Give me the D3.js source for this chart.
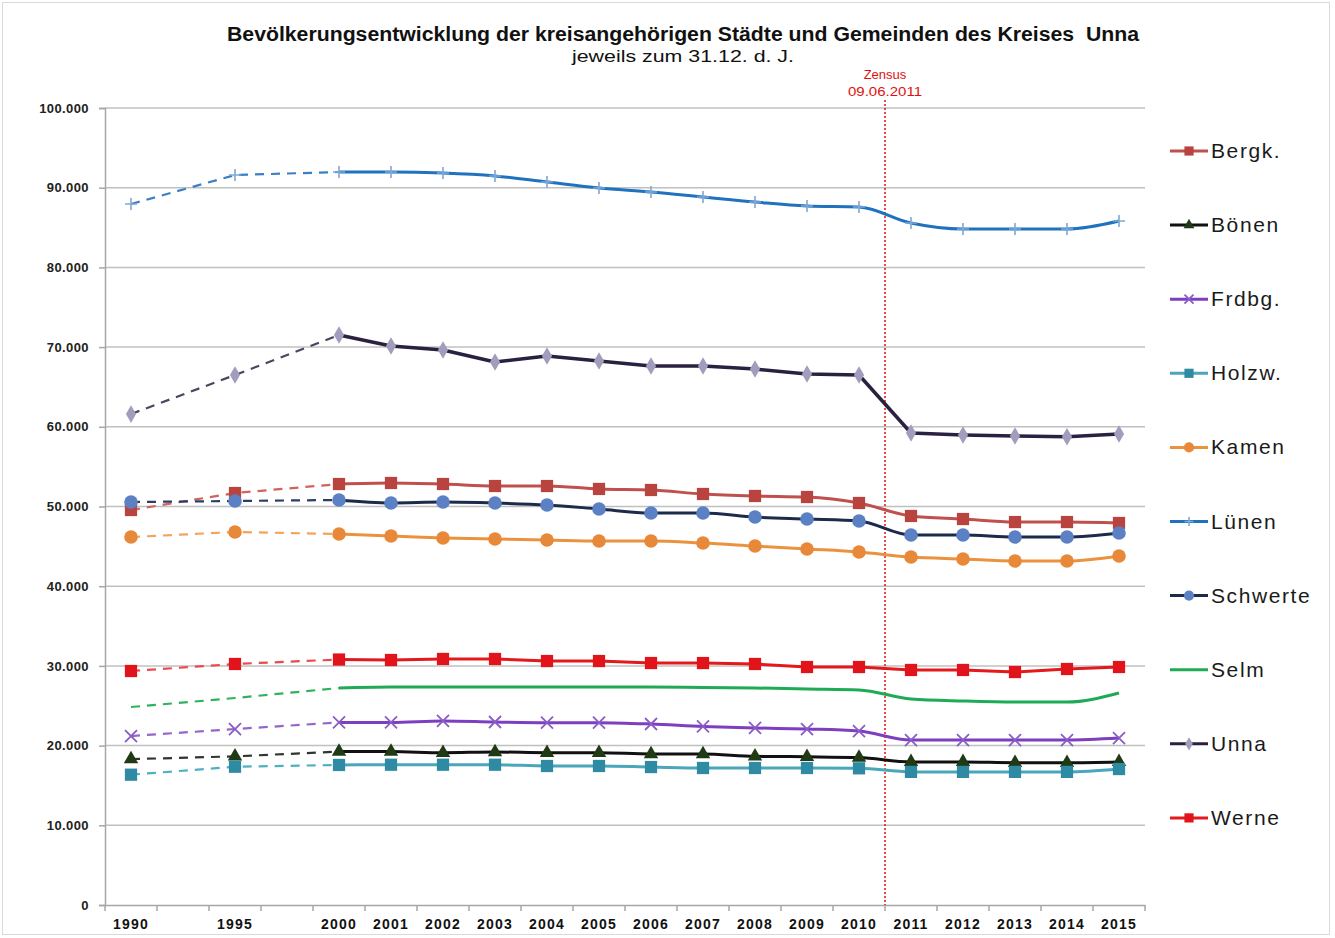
<!DOCTYPE html>
<html>
<head>
<meta charset="utf-8">
<script src="https://cdn.jsdelivr.net/npm/d3@7"></script>
<style>
  body { margin: 0; background: #fff; }
  svg { display: block; font-family: "Liberation Sans", Arial, sans-serif; }
</style>
</head>
<body>
<svg id="chart" width="1335" height="938"></svg>
<script>
// Kategorien der x-Achse (leere Felder = Lücken zwischen 1990/1995/2000)
const categories = ["1990", "", "1995", "", "2000", "2001", "2002", "2003", "2004", "2005",
  "2006", "2007", "2008", "2009", "2010", "2011", "2012", "2013", "2014", "2015"];
const years = [1990, 1995, 2000, 2001, 2002, 2003, 2004, 2005, 2006, 2007, 2008, 2009, 2010,
  2011, 2012, 2013, 2014, 2015];
const yTicks = [0, 10000, 20000, 30000, 40000, 50000, 60000, 70000, 80000, 90000, 100000];

// Einwohner jeweils zum 31.12.
const bergk    = [49560, 51690, 52820, 52950, 52820, 52570, 52570, 52200, 52070, 51570, 51320, 51190, 50440, 48810, 48430, 48050, 48050, 47930];
const boenen   = [18300, 18650, 19250, 19250, 19100, 19200, 19100, 19100, 18950, 18950, 18650, 18600, 18500, 17950, 17950, 17850, 17850, 17950];
const frdbg    = [21200, 22080, 22900, 22900, 23100, 22960, 22880, 22880, 22710, 22400, 22210, 22080, 21830, 20700, 20700, 20700, 20700, 20950];
const holzw    = [16350, 17350, 17570, 17600, 17600, 17600, 17440, 17440, 17310, 17190, 17190, 17190, 17150, 16700, 16700, 16700, 16700, 17060];
const kamen    = [46170, 46800, 46550, 46300, 46050, 45920, 45800, 45670, 45670, 45420, 45040, 44670, 44290, 43660, 43410, 43160, 43160, 43790];
const luenen   = [87950, 91590, 91970, 91970, 91840, 91470, 90710, 89960, 89460, 88830, 88200, 87700, 87580, 85570, 84820, 84820, 84820, 85820];
const schwerte = [50560, 50690, 50820, 50440, 50560, 50440, 50190, 49690, 49180, 49180, 48680, 48430, 48180, 46420, 46420, 46170, 46170, 46670];
const selm     = [24840, 25970, 27230, 27350, 27350, 27350, 27350, 27350, 27350, 27300, 27230, 27100, 26980, 25850, 25600, 25470, 25470, 26600];
const unna     = [61600, 66500, 71520, 70140, 69640, 68130, 68880, 68260, 67630, 67630, 67250, 66620, 66500, 59220, 58970, 58850, 58750, 59100];
const werne    = [29360, 30240, 30800, 30740, 30870, 30870, 30610, 30610, 30360, 30360, 30240, 29860, 29860, 29490, 29490, 29230, 29610, 29860];

const seriesNames = ["Bergk.", "Bönen", "Frdbg.", "Holzw.", "Kamen", "Lünen", "Schwerte", "Selm", "Unna", "Werne"];
const seriesValues = [bergk, boenen, frdbg, holzw, kamen, luenen, schwerte, selm, unna, werne];

const styles = {
  "Bergk.":   { line: "#c0504d", dash: "#d0625f", fill: "#b8433f", marker: "square", smooth: true },
  "Bönen":    { line: "#111111", dash: "#333333", fill: "#1f3a14", marker: "triangle", smooth: true },
  "Frdbg.":   { line: "#7d3fc0", dash: "#9466c8", fill: "#8a5cc8", marker: "x", smooth: true },
  "Holzw.":   { line: "#4aa6bb", dash: "#4fb0c4", fill: "#2f8aa3", marker: "square", smooth: true },
  "Kamen":    { line: "#eb923f", dash: "#f2a45d", fill: "#e8893a", marker: "circle", smooth: true },
  "Lünen":    { line: "#1f72bd", dash: "#3a7fc4", fill: "#7fa8d8", marker: "plus", smooth: true },
  "Schwerte": { line: "#1d2b4a", dash: "#2c3f63", fill: "#5b80c4", marker: "circle", smooth: true },
  "Selm":     { line: "#1faa55", dash: "#2db35f", fill: "#1faa55", marker: "none", smooth: true },
  "Unna":     { line: "#2a2140", dash: "#4a4560", fill: "#a29dbd", marker: "diamond", smooth: false },
  "Werne":    { line: "#e3191b", dash: "#ea4a4c", fill: "#e0141a", marker: "square", smooth: false }
};

const svg = d3.select("#chart");
const plotLeft = 105, plotRight = 1145, plotTop = 108, plotBottom = 905;

const x = d3.scaleBand().domain(d3.range(categories.length)).range([plotLeft, plotRight]);
const xPos = yr => x(categories.indexOf(String(yr))) + x.bandwidth() / 2;
const y = d3.scaleLinear().domain([0, 100000]).range([plotBottom, plotTop]);
const de = d3.formatLocale({ decimal: ",", thousands: ".", grouping: [3], currency: ["", "€"] });
const fmt = de.format(",");

// Rahmen
svg.append("rect").attr("x", 2.5).attr("y", 2.5).attr("width", 1327).attr("height", 932)
  .attr("fill", "none").attr("stroke", "#d9d9d9");

// Titel
svg.append("text").attr("x", 683).attr("y", 41).attr("text-anchor", "middle")
  .attr("font-size", 20).attr("font-weight", "bold").attr("fill", "#111")
  .attr("textLength", 912).attr("lengthAdjust", "spacingAndGlyphs")
  .style("white-space", "pre")
  .text("Bevölkerungsentwicklung der kreisangehörigen Städte und Gemeinden des Kreises  Unna");
svg.append("text").attr("x", 683).attr("y", 62).attr("text-anchor", "middle")
  .attr("font-size", 17).attr("fill", "#111")
  .attr("textLength", 222).attr("lengthAdjust", "spacingAndGlyphs")
  .text("jeweils zum 31.12. d. J.");

// Gitternetz
svg.append("g").selectAll("line").data(yTicks.filter(d => d > 0)).join("line")
  .attr("x1", plotLeft).attr("x2", plotRight).attr("y1", d => y(d)).attr("y2", d => y(d))
  .attr("stroke", "#c0c0c0").attr("stroke-width", 1.5);

// y-Achse
const yAxis = svg.append("g").attr("transform", `translate(${plotLeft},0)`)
  .call(d3.axisLeft(y).tickValues(yTicks).tickFormat(fmt).tickSize(6).tickPadding(10));
yAxis.select(".domain").attr("stroke", "#a6a6a6").attr("stroke-width", 1.5);
yAxis.selectAll(".tick line").attr("stroke", "#a6a6a6").attr("stroke-width", 1.5);
yAxis.selectAll("text").attr("font-size", 13).attr("font-weight", "bold").attr("fill", "#222")
  .attr("letter-spacing", 0.4).attr("font-family", "Liberation Sans, Arial, sans-serif");

// x-Achse
const xAxis = svg.append("g").attr("transform", `translate(0,${plotBottom})`)
  .call(d3.axisBottom(x).tickFormat(i => categories[i]).tickSize(0).tickPadding(14));
xAxis.select(".domain").attr("stroke", "#a6a6a6").attr("stroke-width", 1.5);
xAxis.selectAll("text").attr("font-size", 14).attr("font-weight", "bold").attr("fill", "#111")
  .attr("letter-spacing", 1.2).attr("font-family", "Liberation Sans, Arial, sans-serif");
svg.append("g").selectAll("line").data(d3.range(categories.length + 1)).join("line")
  .attr("x1", i => plotLeft + i * x.step()).attr("x2", i => plotLeft + i * x.step())
  .attr("y1", plotBottom).attr("y2", plotBottom + 6)
  .attr("stroke", "#a6a6a6").attr("stroke-width", 1.5);

// Zensus-Linie
const zx = (xPos(2010) + xPos(2011)) / 2;
svg.append("line").attr("x1", zx).attr("x2", zx).attr("y1", 100).attr("y2", plotBottom)
  .attr("stroke", "#e01010").attr("stroke-width", 1.5).attr("stroke-dasharray", "2,2");
svg.append("text").attr("x", zx).attr("y", 79).attr("text-anchor", "middle")
  .attr("font-size", 13).attr("fill", "#e01010").text("Zensus");
svg.append("text").attr("x", zx).attr("y", 96).attr("text-anchor", "middle")
  .attr("font-size", 13).attr("fill", "#e01010")
  .attr("textLength", 74).attr("lengthAdjust", "spacingAndGlyphs").text("09.06.2011");

// Marker
function marker(sel, type, color, scale) {
  const k = scale || 1;
  if (type === "square") {
    sel.append("path").attr("d", d3.symbol(d3.symbolSquare, 150 * k * k)).attr("fill", color);
  } else if (type === "circle") {
    sel.append("circle").attr("r", 6.8 * k).attr("fill", color);
  } else if (type === "triangle") {
    sel.append("path").attr("d", d3.symbol(d3.symbolTriangle, 90 * k * k)).attr("fill", color);
  } else if (type === "diamond") {
    sel.append("path").attr("d", d3.symbol(d3.symbolDiamond, 90 * k * k)).attr("fill", color);
  } else if (type === "x") {
    const s = 6 * k;
    sel.append("path").attr("d", `M${-s},${-s}L${s},${s}M${-s},${s}L${s},${-s}`)
      .attr("stroke", color).attr("stroke-width", 1.8).attr("fill", "none");
  } else if (type === "plus") {
    const s = 6 * k;
    sel.append("path").attr("d", `M${-s},0L${s},0M0,${-s}L0,${s}`)
      .attr("stroke", color).attr("stroke-width", 1.6).attr("fill", "none");
  }
}

const lineSmooth = d3.line().x(d => xPos(d.year)).y(d => y(d.value)).curve(d3.curveMonotoneX);
const lineStraight = d3.line().x(d => xPos(d.year)).y(d => y(d.value));

const plot = svg.append("g");
seriesNames.forEach((name, si) => {
  const st = styles[name];
  const pts = years.map((yr, i) => ({ year: yr, value: seriesValues[si][i] }));
  const early = pts.filter(p => p.year <= 2000);
  const late = pts.filter(p => p.year >= 2000);
  plot.append("path").datum(early).attr("d", lineStraight).attr("fill", "none")
    .attr("stroke", st.dash).attr("stroke-width", 2.2).attr("stroke-dasharray", "9,7");
  plot.append("path").datum(late).attr("d", st.smooth ? lineSmooth : lineStraight)
    .attr("fill", "none").attr("stroke-linejoin", "round")
    .attr("stroke", st.line).attr("stroke-width", name === "Unna" ? 3.5 : 3);
  pts.forEach(p => {
    const g = plot.append("g").attr("transform", `translate(${xPos(p.year)},${y(p.value)})`);
    marker(g, st.marker, st.fill, 1);
  });
});

// Legende
const legend = svg.append("g");
seriesNames.forEach((name, i) => {
  const st = styles[name];
  const ly = 151 + i * 74.1;
  const g = legend.append("g").attr("transform", `translate(1170,${ly})`);
  g.append("line").attr("x1", 0).attr("x2", 38).attr("stroke", st.line).attr("stroke-width", 3);
  const m = g.append("g").attr("transform", "translate(19,0)");
  marker(m, st.marker, st.fill, 0.75);
  g.append("text").attr("x", 41).attr("y", 7).attr("font-size", 21).attr("letter-spacing", 1.6)
    .attr("fill", "#1a1a1a").text(name);
});
</script>
</body>
</html>
